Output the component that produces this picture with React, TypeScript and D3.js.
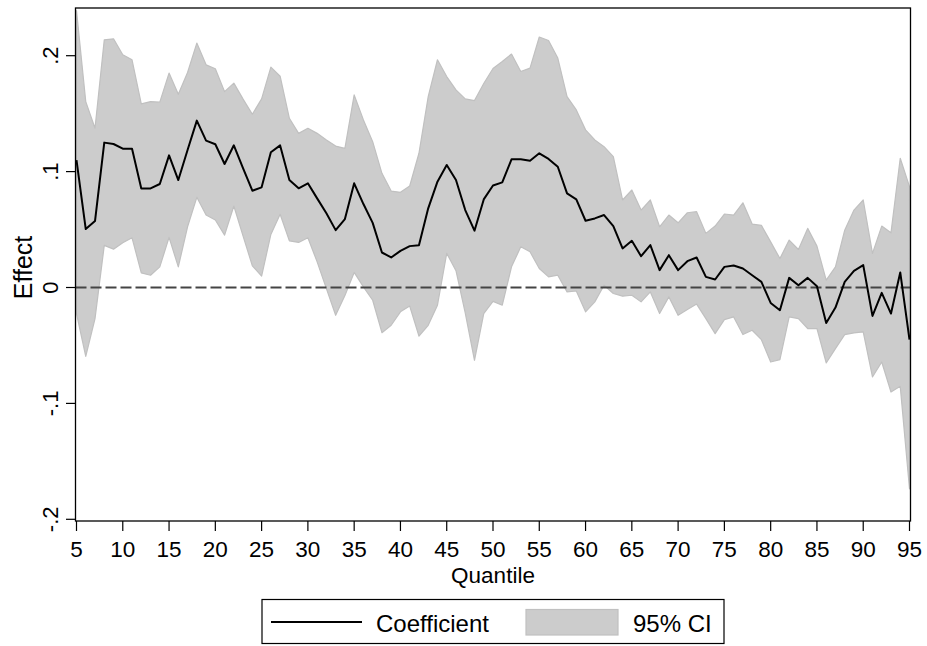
import React from "react";
import * as d3 from "d3";

// Quantile regression estimates, quantiles 5..95
const quantiles = [
  5, 6, 7, 8, 9, 10, 11, 12, 13, 14, 15, 16, 17, 18, 19, 20, 21, 22, 23, 24, 25, 26, 27, 28, 29, 30,
  31, 32, 33, 34, 35, 36, 37, 38, 39, 40, 41, 42, 43, 44, 45, 46, 47, 48, 49, 50, 51, 52, 53, 54, 55,
  56, 57, 58, 59, 60, 61, 62, 63, 64, 65, 66, 67, 68, 69, 70, 71, 72, 73, 74, 75, 76, 77, 78, 79, 80,
  81, 82, 83, 84, 85, 86, 87, 88, 89, 90, 91, 92, 93, 94, 95,
];

const coefficient = [
  0.110, 0.0504, 0.0573, 0.125, 0.1238, 0.1198, 0.1198, 0.0855, 0.0855, 0.0893,
  0.114, 0.0927, 0.1187, 0.144, 0.1267, 0.1236, 0.1066, 0.1227, 0.1028, 0.0835,
  0.0864, 0.1167, 0.1226, 0.0927, 0.0856, 0.0899, 0.0769, 0.064, 0.0495, 0.059,
  0.0899, 0.072, 0.0558, 0.0302, 0.0259, 0.0316, 0.0357, 0.0365, 0.0683, 0.0913,
  0.1057, 0.0927, 0.0668, 0.049, 0.076, 0.088, 0.0907, 0.1106, 0.1106, 0.1094,
  0.1158, 0.1109, 0.1042, 0.0812, 0.076, 0.0576, 0.0596, 0.0625, 0.053, 0.0337,
  0.0403, 0.027, 0.0366, 0.015, 0.0279, 0.015, 0.0227, 0.0259, 0.0092, 0.0069,
  0.0178, 0.019, 0.0164, 0.0106, 0.0049, -0.0133, -0.0196, 0.0083, 0.002, 0.0083,
  0.0011, -0.0306, -0.0173, 0.0049, 0.0144, 0.0193, -0.0245, -0.0046, -0.0225, 0.013,
  -0.045,
];

const ciUpper = [
  0.239, 0.1604, 0.1374, 0.2137, 0.2146, 0.2008, 0.1965, 0.1584, 0.1604, 0.1599,
  0.185, 0.1668, 0.1855, 0.2109, 0.1921, 0.1887, 0.169, 0.1763, 0.1625, 0.1495,
  0.1627, 0.1901, 0.1823, 0.146, 0.133, 0.1374, 0.133, 0.1273, 0.122, 0.12,
  0.1662, 0.1446, 0.1258, 0.0985, 0.0832, 0.0821, 0.0876, 0.1158, 0.1647, 0.1965,
  0.182, 0.1705, 0.1627, 0.1613, 0.176, 0.189, 0.195, 0.2014, 0.1864, 0.1893,
  0.2161, 0.2131, 0.198, 0.1647, 0.1532, 0.136, 0.1273, 0.1215, 0.1129, 0.0755,
  0.0841, 0.0668, 0.0755, 0.0524, 0.0625, 0.0558, 0.0645, 0.0654, 0.0467, 0.053,
  0.0634, 0.0625, 0.0731, 0.0547, 0.0536, 0.0394, 0.025, 0.0409, 0.0328, 0.051,
  0.0357, 0.0063, 0.0178, 0.0495, 0.0668, 0.0755, 0.0294, 0.053, 0.0472, 0.1115,
  0.087,
];

const ciLower = [
  -0.0225, -0.0594, -0.0268, 0.0363, 0.0331, 0.0386, 0.0429, 0.0126, 0.0106, 0.0178,
  0.0432, 0.0178, 0.0524, 0.0778, 0.0625, 0.0582, 0.0452, 0.0703, 0.0443, 0.0187,
  0.0098, 0.0458, 0.0632, 0.0403, 0.0389, 0.0429, 0.0221, -0.001, -0.024, -0.007,
  0.013, 0.0005, -0.011, -0.039, -0.0326, -0.021, -0.016, -0.042, -0.0326, -0.0153,
  0.0295, 0.0145, -0.022, -0.0628, -0.0225, -0.012, -0.0153, 0.0178, 0.0351, 0.0308,
  0.0164, 0.0092, 0.0106, -0.0038, -0.003, -0.021, -0.0124, 0.002, -0.0052, -0.0075,
  -0.0067, -0.0124, -0.0038, -0.0225, -0.0081, -0.024, -0.019, -0.0143, -0.0268, -0.0398,
  -0.0277, -0.0254, -0.0406, -0.0369, -0.045, -0.0643, -0.0622, -0.0254, -0.0268, -0.0354,
  -0.0354, -0.0651, -0.0527, -0.0406, -0.0392, -0.0383, -0.0772, -0.0643, -0.0902, -0.0853,
  -0.1737,
];

const xTicks = [5, 10, 15, 20, 25, 30, 35, 40, 45, 50, 55, 60, 65, 70, 75, 80, 85, 90, 95];
const yTicks = [0.2, 0.1, 0, -0.1, -0.2];
const yTickLabels = [".2", ".1", "0", "-.1", "-.2"];

const W = 927;
const H = 646;
const FRAME = { left: 75.5, right: 910.5, top: 8, bottom: 521 };
const FONT = "'Liberation Sans', Arial, Helvetica, sans-serif";
const CI_FILL = "#cccccc";
const CI_EDGE = "#c0c0c0";

export default function App() {
  const x = d3.scaleLinear().domain([5, 95]).range([76.5, 909.5]);
  const y = d3.scaleLinear().domain([-0.2, 0.2]).range([519.3, 55.7]);

  const rows = quantiles.map((q, i) => ({
    q,
    b: coefficient[i],
    lo: ciLower[i],
    hi: ciUpper[i],
  }));

  const area = d3
    .area<(typeof rows)[number]>()
    .x((d) => x(d.q))
    .y0((d) => y(d.lo))
    .y1((d) => y(d.hi));

  const line = d3
    .line<(typeof rows)[number]>()
    .x((d) => x(d.q))
    .y((d) => y(d.b));

  const midX = (FRAME.left + FRAME.right) / 2;

  return (
    <svg
      width={W}
      height={H}
      viewBox={`0 0 ${W} ${H}`}
      style={{ position: "absolute", left: 0, top: 0, background: "#fff" }}
      fontFamily={FONT}
    >
      <rect x={0} y={0} width={W} height={H} fill="#fff" />

      {/* confidence band */}
      <path d={area(rows) ?? ""} fill={CI_FILL} stroke={CI_EDGE} strokeWidth={1.2} strokeLinejoin="round" />

      {/* zero reference */}
      <line
        x1={FRAME.left}
        x2={FRAME.right}
        y1={y(0)}
        y2={y(0)}
        stroke="#444"
        strokeWidth={2}
        strokeDasharray="11 4"
      />

      {/* point estimates */}
      <path d={line(rows) ?? ""} fill="none" stroke="#000" strokeWidth={2} strokeLinejoin="round" />

      {/* plot frame */}
      <rect
        x={FRAME.left}
        y={FRAME.top}
        width={FRAME.right - FRAME.left}
        height={FRAME.bottom - FRAME.top}
        fill="none"
        stroke="#000"
        strokeWidth={1.3}
      />

      {/* y axis */}
      {yTicks.map((t, i) => (
        <g key={`y${i}`}>
          <line x1={66} x2={FRAME.left} y1={y(t)} y2={y(t)} stroke="#000" strokeWidth={1.2} />
          <text
            transform={`translate(58,${y(t)}) rotate(-90)`}
            textAnchor="middle"
            fontSize={22}
            fill="#000"
          >
            {yTickLabels[i]}
          </text>
        </g>
      ))}
      <text
        transform={`translate(31.5,267.5) rotate(-90)`}
        textAnchor="middle"
        fontSize={25}
        fill="#000"
      >
        Effect
      </text>

      {/* x axis */}
      {xTicks.map((t) => (
        <g key={`x${t}`}>
          <line x1={x(t)} x2={x(t)} y1={FRAME.bottom} y2={531} stroke="#000" strokeWidth={1.2} />
          <text x={x(t)} y={556.5} textAnchor="middle" fontSize={22.5} fill="#000">
            {t}
          </text>
        </g>
      ))}
      <text x={midX} y={582.5} textAnchor="middle" fontSize={22.5} fill="#000">
        Quantile
      </text>

      {/* legend */}
      <rect x={262} y={599.5} width={462} height={44} fill="#fff" stroke="#000" strokeWidth={1.2} />
      <line x1={271} x2={362} y1={622} y2={622} stroke="#000" strokeWidth={2} />
      <text x={376} y={632} fontSize={24} fill="#000">
        Coefficient
      </text>
      <rect x={526} y={609.5} width={92} height={25.5} fill={CI_FILL} stroke={CI_EDGE} strokeWidth={1.2} />
      <text x={633} y={632} fontSize={24} fill="#000">
        95% CI
      </text>
    </svg>
  );
}
